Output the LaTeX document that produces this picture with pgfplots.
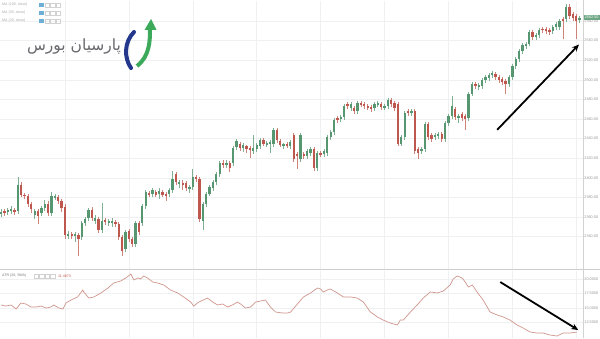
\documentclass[border=0pt]{standalone}
\usepackage{fontspec}
\setmainfont{Liberation Sans}
\newfontfamily\arabicfont[Script=Arabic]{DejaVu Sans}
\TeXXeTstate=1
\usepackage{pgfplots}
\pgfplotsset{compat=1.18}
\usepackage{pgfplotstable}
\usetikzlibrary{arrows.meta}

\definecolor{cgreen}{RGB}{86,150,112}
\definecolor{cred}{RGB}{190,88,78}
\definecolor{atrc}{RGB}{208,150,140}
\definecolor{gridc}{RGB}{238,240,242}
\definecolor{lbl}{RGB}{150,150,150}
\definecolor{logoblue}{RGB}{35,55,140}
\definecolor{logogreen}{RGB}{60,170,90}
\definecolor{logotext}{RGB}{105,105,110}
\definecolor{icoblue}{RGB}{110,175,215}

% i open high low close
\pgfplotstableread{
i o h l c
0 2363 2368 2360 2365
2 2365 2369 2362 2367
3 2366 2371 2363 2368
5 2366 2401 2363 2393
10 2362 2368 2358 2366
12 2364 2371 2361 2369
13 2369 2377 2366 2373
15 2364 2386 2361 2381
16 2380 2384 2377 2381
20 2341 2346 2338 2343
22 2341 2345 2335 2343
24 2340 2356 2337 2354
25 2354 2360 2351 2358
26 2359 2369 2356 2367
28 2356 2362 2353 2359
30 2347 2374 2344 2356
32 2354 2358 2351 2356
33 2354 2359 2350 2356
37 2327 2347 2324 2345
40 2332 2356 2329 2354
42 2354 2373 2351 2371
43 2371 2388 2368 2386
45 2383 2390 2380 2388
47 2383 2390 2378 2387
50 2383 2390 2380 2388
51 2388 2407 2385 2399
53 2394 2398 2390 2396
56 2389 2393 2385 2391
57 2391 2409 2388 2401
60 2356 2375 2347 2373
61 2373 2386 2370 2384
62 2384 2393 2381 2391
63 2390 2398 2387 2396
64 2396 2406 2393 2404
65 2404 2417 2401 2415
67 2413 2418 2410 2415
69 2415 2432 2412 2430
70 2431 2440 2428 2438
72 2430 2436 2426 2434
75 2427 2444 2424 2430
76 2429 2436 2426 2434
77 2432 2441 2429 2439
79 2434 2438 2431 2436
80 2435 2439 2425 2437
81 2434 2451 2431 2449
84 2432 2436 2429 2434
86 2432 2439 2429 2437
89 2419 2446 2416 2444
91 2422 2429 2419 2427
92 2425 2431 2422 2429
94 2410 2427 2407 2425
96 2424 2429 2421 2427
97 2425 2444 2422 2442
98 2442 2449 2439 2447
99 2447 2461 2444 2459
101 2460 2464 2457 2462
102 2462 2475 2459 2473
104 2471 2477 2468 2475
106 2468 2478 2465 2476
111 2471 2477 2468 2475
112 2475 2478 2472 2476
114 2472 2475 2469 2473
115 2473 2481 2470 2479
119 2435 2444 2432 2442
120 2442 2468 2439 2466
122 2466 2470 2463 2468
125 2427 2431 2424 2429
126 2429 2457 2426 2455
129 2442 2446 2439 2444
130 2443 2447 2440 2445
132 2440 2458 2437 2456
133 2456 2465 2453 2463
134 2463 2483 2460 2473
136 2461 2465 2456 2463
139 2461 2488 2458 2486
140 2486 2498 2483 2496
142 2493 2497 2490 2495
143 2494 2502 2491 2500
144 2500 2505 2497 2503
145 2502 2507 2499 2505
146 2505 2509 2502 2507
151 2496 2505 2493 2503
152 2503 2516 2500 2514
153 2514 2523 2511 2521
154 2521 2531 2518 2529
155 2529 2538 2526 2536
156 2534 2539 2531 2537
157 2537 2551 2534 2549
159 2544 2548 2541 2546
160 2546 2553 2543 2551
164 2550 2556 2547 2554
165 2554 2559 2551 2557
166 2554 2562 2551 2560
168 2562 2577 2559 2574
172 2561 2565 2558 2563
}\upcandles

\pgfplotstableread{
i o h l c
1 2366 2368 2361 2364
4 2367 2369 2362 2365
6 2393 2396 2380 2383
7 2383 2385 2378 2381
8 2381 2383 2370 2373
9 2373 2375 2364 2368
11 2366 2368 2353 2361
14 2373 2376 2361 2364
17 2380 2382 2373 2376
18 2376 2378 2365 2369
19 2370 2373 2338 2342
21 2343 2345 2338 2341
23 2342 2344 2320 2338
27 2367 2370 2356 2359
29 2358 2360 2344 2347
31 2357 2359 2352 2355
34 2355 2357 2350 2353
35 2353 2355 2337 2340
36 2340 2342 2320 2325
38 2346 2348 2335 2338
39 2338 2340 2329 2332
41 2354 2356 2342 2345
44 2384 2387 2380 2383
46 2386 2388 2380 2383
48 2386 2388 2380 2383
49 2384 2386 2376 2381
52 2404 2406 2393 2396
54 2395 2398 2388 2393
55 2395 2397 2387 2390
58 2401 2403 2396 2399
59 2399 2401 2355 2358
66 2415 2418 2410 2414
68 2415 2417 2406 2410
71 2435 2437 2427 2430
73 2432 2434 2425 2429
74 2430 2432 2420 2428
78 2439 2441 2432 2435
82 2449 2451 2436 2439
83 2438 2440 2431 2434
85 2435 2437 2430 2433
87 2444 2446 2416 2419
88 2424 2426 2409 2422
90 2424 2426 2419 2422
93 2429 2431 2407 2410
95 2425 2427 2421 2424
100 2461 2463 2456 2459
103 2475 2477 2470 2473
105 2471 2473 2465 2468
107 2476 2478 2472 2475
108 2475 2477 2470 2473
109 2473 2475 2469 2472
110 2472 2474 2467 2470
113 2475 2477 2469 2472
116 2479 2481 2472 2475
117 2476 2478 2468 2471
118 2475 2477 2432 2435
121 2468 2470 2463 2466
123 2468 2470 2424 2427
124 2429 2431 2419 2425
127 2455 2457 2439 2442
128 2444 2446 2437 2440
131 2445 2447 2437 2440
135 2470 2472 2459 2462
137 2465 2467 2458 2461
138 2463 2465 2449 2460
141 2496 2498 2491 2494
147 2506 2508 2500 2503
148 2503 2505 2497 2500
149 2501 2503 2495 2498
150 2499 2501 2486 2496
158 2549 2551 2541 2544
161 2552 2554 2548 2551
162 2552 2554 2547 2550
163 2551 2553 2546 2549
167 2562 2564 2542 2560
169 2574 2577 2562 2565
170 2567 2569 2560 2563
171 2565 2567 2542 2560
}\downcandles

\pgfplotsset{
  wick/.style={draw=none, no markers, forget plot,
    error bars/.cd, y dir=both, y explicit, error mark=none,
    error bar style={line width=0.6pt, draw=#1, solid}},
  body/.style={draw=none, no markers, forget plot,
    error bars/.cd, y dir=both, y explicit, error mark=none,
    error bar style={line width=2.3pt, draw=#1, solid}},
}

\begin{document}
\begin{tikzpicture}[x=1pt,y=1pt]
\useasboundingbox (0,0) rectangle (600,338);
\fill[white] (0,0) rectangle (600,338);

% ---------- price panel ----------
\begin{axis}[
  at={(0,70)}, anchor=south west, scale only axis,
  width=583pt, height=268pt,
  xmin=-0.3, xmax=173, ymin=2306.6, ymax=2580,
  axis line style={draw=none},
  xtick={19,38,57,76,95,114,133,152,171}, xticklabels={},
  ytick={2340,2360,...,2560}, yticklabel pos=right,
  major tick length=0pt,
  grid=major, grid style={gridc, line width=0.5pt},
  yticklabel style={font=\fontsize{3.8}{4}\selectfont, text=lbl, inner sep=1.2pt},
  yticklabel={\pgfmathprintnumber[fixed, fixed zerofill, precision=2, 1000 sep={}, assume math mode=true]{\tick}},
]
\addplot[wick=cgreen!75] table[x=i, y expr={(\thisrow{h}+\thisrow{l})/2}, y error expr={(\thisrow{h}-\thisrow{l})/2}] {\upcandles};
\addplot[wick=cred!75] table[x=i, y expr={(\thisrow{h}+\thisrow{l})/2}, y error expr={(\thisrow{h}-\thisrow{l})/2}] {\downcandles};
\addplot[body=cgreen] table[x=i, y expr={(\thisrow{o}+\thisrow{c})/2}, y error expr={max(abs(\thisrow{c}-\thisrow{o})/2,0.6)}] {\upcandles};
\addplot[body=cred] table[x=i, y expr={(\thisrow{o}+\thisrow{c})/2}, y error expr={max(abs(\thisrow{c}-\thisrow{o})/2,0.6)}] {\downcandles};
\draw[black, line width=1.8pt, -{Stealth[length=7pt,width=6pt]}] (axis cs:147.5,2449) -- (axis cs:171.8,2536);
\end{axis}

% ---------- ATR panel ----------
\begin{axis}[
  at={(0,0)}, anchor=south west, scale only axis,
  width=583pt, height=67pt,
  xmin=-0.3, xmax=173, ymin=9.83, ymax=21.38,
  axis line style={draw=none},
  xtick={19,38,57,76,95,114,133,152,171}, xticklabels={},
  ytick={12.5,15,17.5,20}, yticklabel pos=right,
  major tick length=0pt,
  grid=major, grid style={gridc, line width=0.5pt},
  yticklabel style={font=\fontsize{3.8}{4}\selectfont, text=lbl, inner sep=1.2pt},
  yticklabel={\pgfmathprintnumber[fixed, fixed zerofill, precision=4, 1000 sep={}, assume math mode=true]{\tick}},
]
\addplot[atrc, line width=0.7pt] coordinates {
(0,15.52) (1.5,15.34) (3.0,15.52) (4.5,14.83) (5.9,15.86) (7.4,15.69) (8.9,15.17)
(10.4,15.17) (11.9,15.34) (13.4,15.0) (14.8,15.17) (15.7,15.52) (17.2,15.0) (18.4,14.83)
(19.3,15.86) (20.8,16.38) (22.8,16.90) (24.3,18.10) (24.6,17.76) (26.1,16.72) (27.6,16.90)
(29.7,17.59) (31.8,18.45) (33.5,19.31) (35.6,19.66) (37.1,20.17) (38.6,20.86) (39.5,19.83)
(40.7,20.17) (41.5,20.0) (42.4,20.52) (43.6,20.17) (45.1,19.48) (46.6,19.31) (48.4,18.97)
(50.4,18.10) (52.5,17.59) (54.3,16.90) (56.4,16.03) (57.3,15.34) (58.8,16.03) (61.4,16.72)
(62.9,16.03) (64.4,15.52) (65.9,15.69) (67.4,15.17) (68.8,15.52) (70.3,16.03) (71.2,15.69)
(72.7,15.0) (74.2,15.17) (75.7,16.03) (77.2,16.21) (78.6,16.38) (80.1,15.17) (81.6,14.31)
(83.7,14.14) (85.2,14.14) (86.1,14.31) (88.1,15.69) (89.9,16.90) (92.0,17.59) (94.1,18.45)
(95.0,18.28) (95.8,17.76) (97.0,18.10) (97.9,18.28) (100.0,17.59) (101.8,16.90) (103.9,16.90)
(105.9,16.72) (107.7,16.03) (109.8,14.31) (111.9,13.45) (113.6,12.93) (115.7,12.41) (117.8,12.07)
(118.7,12.93) (119.6,12.93) (121.7,14.31) (123.7,15.52) (125.5,16.72) (127.6,17.76) (129.7,17.59)
(131.5,17.93) (133.5,18.97) (134.4,20.0) (135.6,20.52) (137.1,20.17) (138.0,19.48) (138.9,18.62)
(140.1,18.97) (141.5,17.76) (143.3,16.38) (145.4,14.31) (147.5,13.79) (149.3,13.45) (151.3,12.93)
(153.4,12.07) (155.2,11.55) (157.3,10.86) (159.3,10.69) (161.1,10.69) (163.2,10.34) (165.3,10.17)
(167.1,10.69) (169.1,10.69) (171.2,10.86)
};
\draw[black, line width=1.8pt, -{Stealth[length=7pt,width=6pt]}] (axis cs:148.4,19.48) -- (axis cs:171.6,11.2);
\end{axis}

% ---------- frame lines ----------
\draw[gray!40, line width=1pt] (0,68.5) -- (600,68.5);
\draw[gray!35, line width=0.7pt] (583,0) -- (583,338);

% price tag
\node[fill=cgreen!85, text=white, font=\fontsize{3.8}{4}\selectfont, inner sep=1.3pt, anchor=west] at (583.3,320.5) {2562.50};

% ---------- MA legend ----------
\foreach \yy/\txt in {333/{MA (100, close)}, 325/{MA (50, close)}, 317/{MA (20, close)}} {
  \node[anchor=west, inner sep=0pt, text=lbl!80, font=\fontsize{3.6}{4}\selectfont] at (2,\yy) {\txt};
  \fill[icoblue] (38.5,\yy-2.2) rectangle (43.5,\yy+2.2);
  \draw[gray!35, line width=0.4pt] (45,\yy-2.2) rectangle (49.5,\yy+2.2);
  \draw[gray!35, line width=0.4pt] (50.5,\yy-2.2) rectangle (55,\yy+2.2);
  \draw[gray!35, line width=0.4pt] (56,\yy-2.2) rectangle (60.5,\yy+2.2);
}

% ---------- ATR legend ----------
\node[anchor=west, inner sep=0pt, text=lbl!80!black, font=\fontsize{3.6}{4}\selectfont] at (2,62) {ATR (20, SMA)};
\foreach \xx in {34,39.5,45,50.5} {
  \draw[gray!35, line width=0.4pt] (\xx,59.8) rectangle (\xx+4.5,64.2);
}
\node[anchor=west, inner sep=0pt, text=cred, font=\fontsize{3.6}{4}\selectfont] at (58,62) {11.4873};

% ---------- logo ----------
\node[text=logotext, font=\arabicfont\fontsize{15.5}{16}\selectfont] at (74,291) {\beginR پارسیان بورس\endR};
\draw[logoblue, line width=4pt, line cap=round] (134,306) .. controls (124,296) and (124,280) .. (131,270);
\draw[logogreen, line width=4pt] (137,272) .. controls (150,282) and (150,298) .. (150,309);
\fill[logogreen] (144.5,308) -- (151,319) -- (156.5,308) -- cycle;
\end{tikzpicture}
\end{document}
